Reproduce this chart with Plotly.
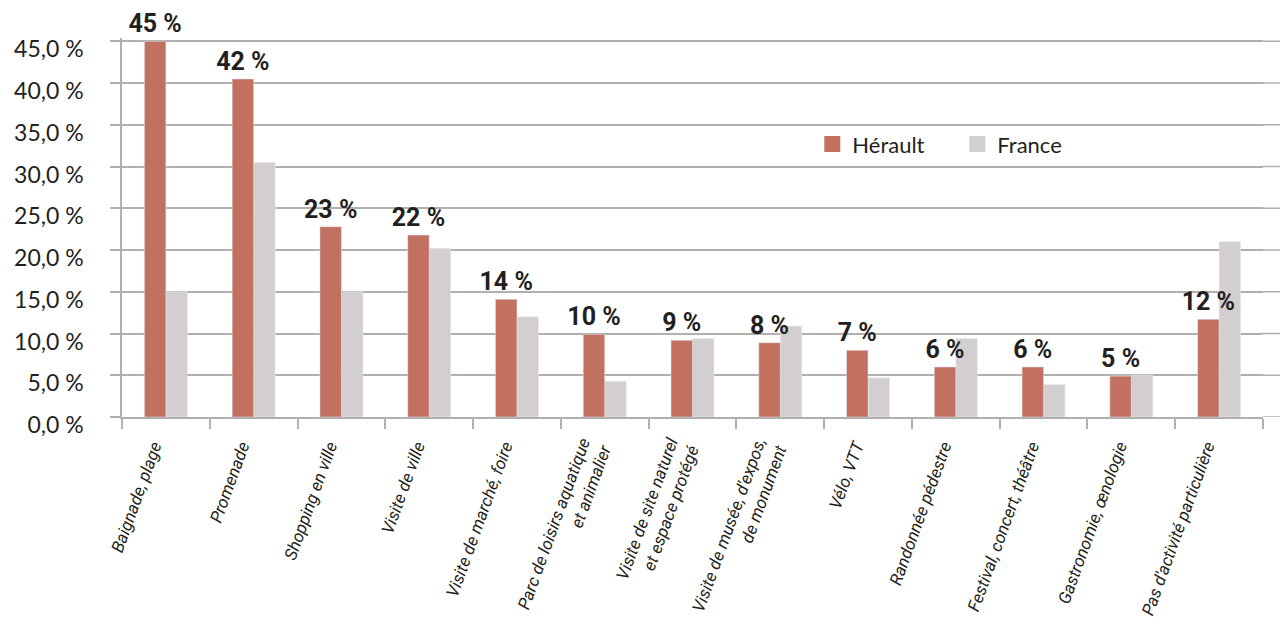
import plotly.graph_objects as go

activites = [
    "Baignade, plage",
    "Promenade",
    "Shopping en ville",
    "Visite de ville",
    "Visite de marché, foire",
    "Parc de loisirs aquatique<br>et animalier",
    "Visite de site naturel<br>et espace protégé",
    "Visite de musée, d'expos,<br>de monument",
    "Vélo, VTT",
    "Randonnée pédestre",
    "Festival, concert, théâtre",
    "Gastronomie, œnologie",
    "Pas d'activité particulière",
]
herault = [45.0, 40.5, 22.8, 21.8, 14.1, 9.9, 9.2, 8.9, 8.0, 6.0, 6.0, 4.9, 11.7]
france = [15.0, 30.5, 15.0, 20.2, 12.0, 4.3, 9.4, 10.9, 4.7, 9.4, 3.9, 5.0, 21.0]
herault_labels = ["45 %", "42 %", "23 %", "22 %", "14 %", "10 %", "9 %", "8 %",
                  "7 %", "6 %", "6 %", "5 %", "12 %"]
y_ticks = [0, 5, 10, 15, 20, 25, 30, 35, 40, 45]

TEXT = "#231f20"
GRID = "#b2afaf"
C_HER = "#c27060"
C_FR = "#d3cfd0"
BAR_W = 0.245

fig = go.Figure()

# France first so the Hérault value labels sit on top of the grey bars
fig.add_trace(go.Bar(
    x=activites, y=france, name="France", showlegend=False,
    marker_color=C_FR, width=BAR_W, offset=0,
))
fig.add_trace(go.Bar(
    x=activites, y=herault, name="Hérault", showlegend=False,
    marker_color=C_HER, width=BAR_W, offset=-BAR_W,
    text=herault_labels, textposition="outside", cliponaxis=False,
    constraintext="none", textangle=0,
    textfont=dict(family="Roboto", size=25, color=TEXT, weight="bold"),
))

# legend entries with bigger square swatches
for name, col in [("Hérault", C_HER), ("France", C_FR)]:
    fig.add_trace(go.Scatter(
        x=[None], y=[None], mode="markers", name=name,
        marker=dict(symbol="square", size=19, color=col),
    ))

# gridlines run a little past the last tick on the right
for v in y_ticks:
    fig.add_shape(type="line", xref="paper", yref="y", x0=1, x1=1.03, y0=v, y1=v,
                  line=dict(color=GRID, width=1.5), layer="below")

fig.update_layout(
    width=1280, height=617,
    margin=dict(l=114, r=25, t=30, b=208),
    plot_bgcolor="white", paper_bgcolor="white",
    barmode="overlay",
    showlegend=True,
    legend=dict(
        orientation="h", x=0.605, y=0.72, xanchor="left", yanchor="middle",
        font=dict(family="Lato", size=22, color=TEXT),
        bgcolor="rgba(0,0,0,0)", itemwidth=30,
        entrywidth=100, entrywidthmode="pixels",
    ),
    font=dict(family="Lato", color=TEXT),
)

fig.update_xaxes(
    automargin=False,
    tickangle=-70, tickson="boundaries", ticks="outside", ticklen=10,
    tickcolor=GRID, tickwidth=1.5,
    ticklabelstandoff=11, ticklabelshift=-12,
    showline=True, linecolor=GRID, linewidth=1.5,
    tickfont=dict(family="Roboto", size=17, color=TEXT, style="italic"),
    showgrid=False,
)
fig.update_yaxes(
    automargin=False,
    range=[0, 45.4],
    tickvals=y_ticks,
    ticktext=[f"{v:.1f}".replace(".", ",") + " %" for v in y_ticks],
    ticks="outside", ticklen=10, tickcolor=GRID, tickwidth=1.5,
    ticklabelstandoff=22, ticklabelshift=8,
    showline=True, linecolor=GRID, linewidth=1.5,
    showgrid=True, gridcolor=GRID, gridwidth=1.5,
    tickfont=dict(family="Lato", size=23, color=TEXT),
    zeroline=False,
)

fig.write_html("out.html")
